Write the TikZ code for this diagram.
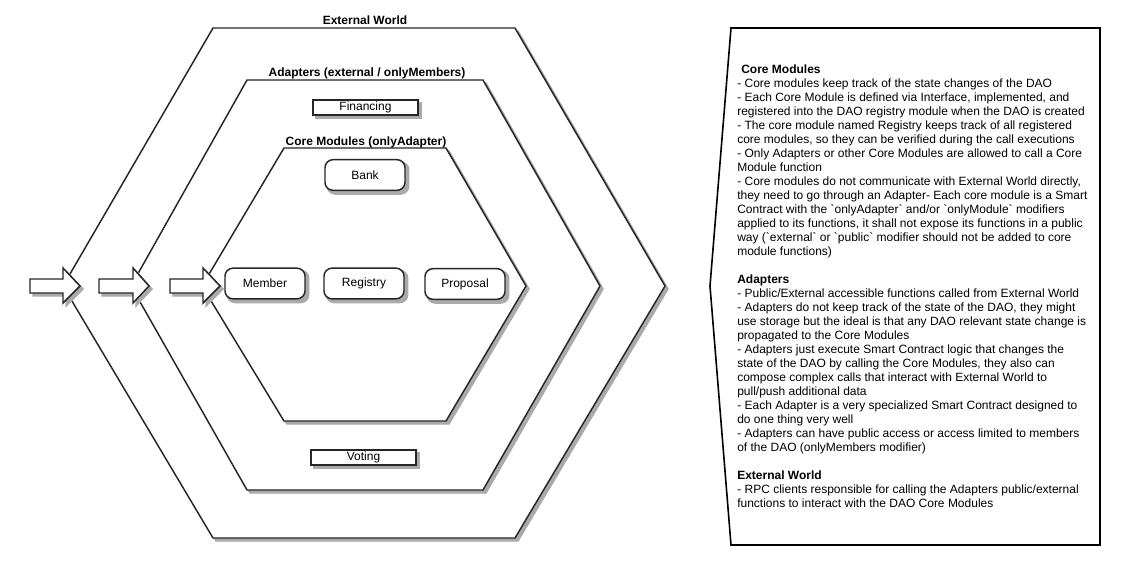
\documentclass[tikz,border=0pt]{standalone}
\usepackage{fontspec}
\setmainfont{Liberation Sans}[Ligatures=TeXOff]

\pgfdeclarelayer{hexes}
\pgfdeclarelayer{shades}
\pgfsetlayers{hexes,shades,main}

\definecolor{shadowgray}{RGB}{170,170,170}

\tikzset{
  dropfill/.style={draw=shadowgray, fill=shadowgray, line width=1.1pt},
  layer/.style={draw=black!85, line width=1.1pt, fill=white},
  shadowed/.style={append after command={\pgfextra{\begin{pgfonlayer}{shades}
    \draw[dropfill, rounded corners=#1] ([xshift=2.25pt,yshift=-2.25pt]\tikzlastnode.south west)
      rectangle ([xshift=2.25pt,yshift=-2.25pt]\tikzlastnode.north east);
    \end{pgfonlayer}}}},
  module/.style={layer, shadowed=6pt, rounded corners=6pt, minimum width=60pt, minimum height=23pt,
    inner sep=0pt, font=\fontsize{9}{10.5}\selectfont},
  adapter/.style={layer, shadowed=0pt, minimum width=78.75pt, minimum height=11.25pt,
    inner sep=0pt, font=\fontsize{9}{10.5}\selectfont},
  title/.style={font=\bfseries\fontsize{9}{10.5}\selectfont, inner sep=0pt},
  notebox/.style={draw=black, line width=1.2pt, fill=white},
}

\begin{document}
\begin{tikzpicture}[x=0.75pt,y=-0.75pt]
\useasboundingbox (0,0) rectangle (1122,565);

% layers
\begin{pgfonlayer}{hexes}
\draw[dropfill] (216,31) -- (518,31) -- (668,289) -- (518,541) -- (216,541) -- (66,289) -- cycle;
\draw[layer] (213,28) -- (515,28) -- (665,286) -- (515,538) -- (213,538) -- (63,286) -- cycle;
\draw[dropfill] (250,83) -- (486,83) -- (603,289) -- (486,493) -- (250,493) -- (134,289) -- cycle;
\draw[layer] (247,80) -- (483,80) -- (600,286) -- (483,490) -- (247,490) -- (131,286) -- cycle;
\draw[dropfill] (287,151) -- (449,151) -- (529,289) -- (449,424) -- (287,424) -- (205,289) -- cycle;
\draw[layer] (284,148) -- (446,148) -- (526,286) -- (446,421) -- (284,421) -- (202,286) -- cycle;
\end{pgfonlayer}

\node[title] (world) at (365,20) {External World};
\node[title] (adapters) at (367,73) {Adapters (external / onlyMembers)};
\node[title] (core) at (366,142) {Core Modules (onlyAdapter)};

% adapters
\node[adapter] (financing) at (365.5,107.5) {Financing};
\node[adapter] (voting) at (363.5,457.5) {Voting};

% core modules
\node[module] (bank) at (365,175) {Bank};
\node[module] (member) at (265,283.5) {Member};
\node[module] (registry) at (364,283.5) {Registry};
\node[module] (proposal) at (465,284) {Proposal};

% calls coming in
\draw[dropfill] (33,282) -- (66,282) -- (66,271) -- (83,289) -- (66,306) -- (66,296) -- (33,296) -- cycle;
\draw[layer] (30,279) -- (63,279) -- (63,268) -- (80,286) -- (63,303) -- (63,293) -- (30,293) -- cycle;
\draw[dropfill] (102,282) -- (136,282) -- (136,271) -- (152,289) -- (136,306) -- (136,296) -- (102,296) -- cycle;
\draw[layer] (99,279) -- (133,279) -- (133,268) -- (149,286) -- (133,303) -- (133,293) -- (99,293) -- cycle;
\draw[dropfill] (173,282) -- (206,282) -- (206,271) -- (223,289) -- (206,306) -- (206,296) -- (173,296) -- cycle;
\draw[layer] (170,279) -- (203,279) -- (203,268) -- (220,286) -- (203,303) -- (203,293) -- (170,293) -- cycle;

% notes
\draw[notebox] (731,28) -- (1100,28) -- (1100,545) -- (731,545) -- (710,286) -- cycle;
\node[anchor=north west, inner sep=0pt, align=left, font=\fontsize{9}{10.5}\selectfont] (notes) at (737,65) {%
\hspace*{3pt}\textbf{Core Modules}\\
- Core modules keep track of the state changes of the DAO\\
- Each Core Module is defined via Interface, implemented, and\\
registered into the DAO registry module when the DAO is created\\
- The core module named Registry keeps track of all registered\\
core modules, so they can be verified during the call executions\\
- Only Adapters or other Core Modules are allowed to call a Core\\
Module function\\
- Core modules do not communicate with External World directly,\\
they need to go through an Adapter- Each core module is a Smart\\
Contract with the `onlyAdapter` and/or `onlyModule` modifiers\\
applied to its functions, it shall not expose its functions in a public\\
way (`external` or `public` modifier should not be added to core\\
module functions)\\[10.5pt]
\textbf{Adapters}\\
- Public/External accessible functions called from External World\\
- Adapters do not keep track of the state of the DAO, they might\\
use storage but the ideal is that any DAO relevant state change is\\
propagated to the Core Modules\\
- Adapters just execute Smart Contract logic that changes the\\
state of the DAO by calling the Core Modules, they also can\\
compose complex calls that interact with External World to\\
pull/push additional data\\
- Each Adapter is a very specialized Smart Contract designed to\\
do one thing very well\\
- Adapters can have public access or access limited to members\\
of the DAO (onlyMembers modifier)\\[10.5pt]
\textbf{External World}\\
- RPC clients responsible for calling the Adapters public/external\\
functions to interact with the DAO Core Modules};
\end{tikzpicture}
\end{document}
